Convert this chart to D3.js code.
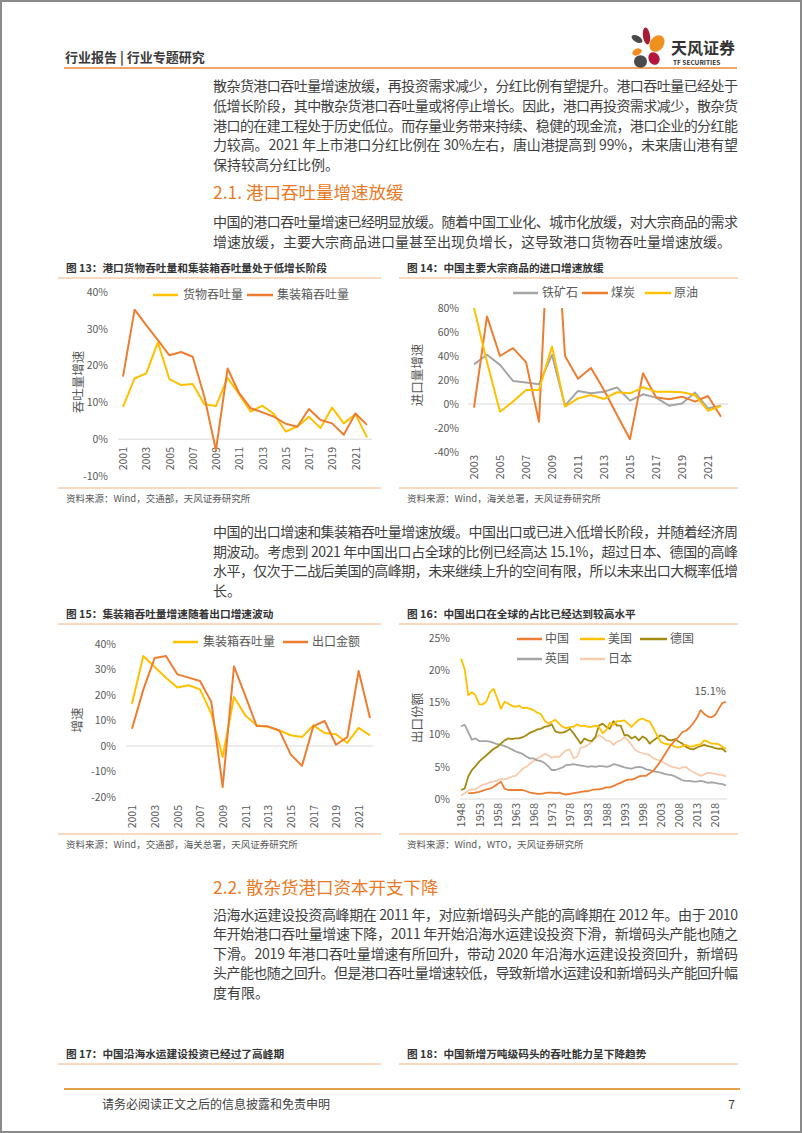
<!DOCTYPE html>
<html><head><meta charset="utf-8">
<script src="https://cdn.jsdelivr.net/npm/d3@7"></script>
<style>html,body{margin:0;padding:0;background:#fff;}svg{display:block;}</style>
</head><body>
<svg id="page" width="802" height="1133"></svg>
<script>
// ---------------- DATA ----------------
const years13 = d3.range(2001, 2023);
const cargo13 = [8.8,16.5,17.9,26.3,16.3,14.7,15.0,9.5,9.0,16.7,12.2,7.5,9.1,6.8,2.1,3.4,6.1,3.0,8.6,4.3,6.8,0.5];
const container13 = [17.0,35.2,31.0,26.9,22.8,23.7,22.4,11.6,-3.0,19.2,12.5,8.4,7.3,6.1,4.2,3.4,8.2,5.2,4.3,1.2,7.0,3.9];
const yTicks13 = [-10,0,10,20,30,40];
const xTicks13 = [2001,2003,2005,2007,2009,2011,2013,2015,2017,2019,2021];

const years14 = d3.range(2003, 2023);
const iron14 = [33,41,32.6,19.2,17.9,16.5,41,-1.4,10.9,8.9,10.3,13.7,2.8,8.1,5.3,-1.4,0.5,9.5,-3.6,-1.4];
const coal14 = [-3,73,40,46.6,34.9,-14.8,212,40,21,30,11.7,-9.2,-29.3,25.7,5.6,3.9,6.1,2,6.7,-10.6];
const crude14 = [80,35,-6.4,2,11.7,11.7,48,-2.2,4.7,7.5,4.2,9.8,8.9,13.9,10.3,10.3,9.8,7.5,-5.6,-1.7];
const yTicks14 = [-40,-20,0,20,40,60,80];
const xTicks14 = [2003,2005,2007,2009,2011,2013,2015,2017,2019,2021];

const years15 = d3.range(2001, 2023);
const container15 = [16.6,35.3,31.0,26.8,22.9,23.8,22.2,12.7,-4.3,19.2,12.0,8.1,7.5,6.1,4.2,3.5,8.1,5.1,4.6,1.2,7.1,4.2];
const export15 = [6.8,22.1,34.5,35.3,28.1,26.8,25.5,17.3,-16.1,31.2,19.7,7.8,7.7,6.1,-3.3,-7.8,7.8,9.8,0.5,3.5,29.4,11.0];
const yTicks15 = [-20,-10,0,10,20,30,40];
const xTicks15 = [2001,2003,2005,2007,2009,2011,2013,2015,2017,2019,2021];

const years16 = d3.range(1948, 2022);
const china16 = [null,null,0.9,0.9,1.0,1.1,1.3,1.5,1.6,1.9,
  2.3,2.7,1.6,1.4,1.4,1.4,1.4,1.4,1.2,1.0,
  0.9,0.8,0.8,0.9,1.0,1.0,0.9,1.0,0.8,0.7,
  0.8,0.9,1.0,1.1,1.2,1.2,1.4,1.5,1.5,1.6,
  1.8,1.8,2.0,2.3,2.5,2.8,3.0,3.0,3.2,3.5,
  3.6,3.6,4.0,4.4,5.1,5.9,6.8,7.7,8.5,9.1,
  9.7,10.4,10.6,11.1,11.8,12.6,13.8,13.2,12.8,12.7,
  13.0,14.0,14.9,15.1];
const us16 = [21.8,20.2,16.1,16.6,16.1,14.7,14.7,15.1,16.6,17.1,
  15.6,14.0,15.1,14.8,14.5,14.3,14.5,14.1,14.2,14.0,
  13.8,13.4,13.2,12.2,11.7,12.0,12.3,11.7,11.2,11.0,
  11.2,11.2,11.6,11.3,11.4,11.2,11.2,11.4,11.2,10.2,
  10.7,11.8,11.5,12.1,12.1,12.2,11.7,11.2,11.8,12.3,
  12.5,12.2,12.0,11.0,9.9,8.9,8.6,8.5,8.4,8.1,
  8.0,8.2,8.4,8.1,8.2,8.4,8.5,9.1,8.9,8.6,
  8.6,8.5,8.1,7.8];
const germany16 = [1.4,1.6,3.5,4.5,5.1,5.8,6.3,6.8,7.3,7.8,
  8.1,8.6,9.1,9.4,9.3,9.4,9.4,9.6,9.9,10.3,
  10.5,10.8,10.9,11.2,11.3,11.6,10.5,10.3,10.3,10.5,
  10.9,10.2,9.4,8.6,9.4,9.1,9.0,9.6,11.4,11.7,
  11.2,10.9,12.1,11.4,11.4,9.9,9.9,9.4,9.7,9.1,
  9.7,9.4,8.6,9.1,9.5,9.9,9.7,9.2,9.1,9.3,
  8.9,8.6,8.1,7.8,7.7,8.0,8.2,8.4,8.2,8.1,
  7.9,7.8,7.8,7.3];
const uk16 = [11.3,11.5,10.4,9.2,9.4,9.0,9.0,9.0,8.9,8.7,
  8.5,8.4,8.2,8.0,7.7,7.4,7.2,7.0,6.6,6.3,
  6.3,6.0,5.9,5.6,5.1,4.5,4.5,4.7,4.9,5.3,
  5.3,5.4,5.3,5.2,5.1,5.0,5.1,5.0,5.1,5.1,
  5.0,5.1,5.4,5.3,5.1,4.9,4.8,4.7,4.9,5.0,
  4.9,4.6,4.5,4.3,4.2,4.1,3.9,3.8,3.7,3.5,
  3.2,2.9,2.8,2.8,2.7,2.7,2.8,2.7,2.5,2.6,
  2.5,2.4,2.3,2.1];
const japan16 = [0.5,0.9,1.3,1.5,1.5,1.9,2.2,2.4,2.6,2.7,
  2.9,3.1,3.1,3.2,3.5,3.6,4.1,4.7,5.0,5.5,
  5.9,6.3,6.6,7.0,6.8,6.4,6.6,6.5,7.1,7.6,
  7.7,6.3,6.6,8.0,8.1,8.4,8.9,9.5,9.9,9.6,
  9.1,9.0,8.4,8.9,9.1,9.6,9.1,8.4,7.6,7.3,
  7.1,7.0,6.8,6.3,6.1,5.9,5.6,5.3,5.0,4.9,
  4.7,4.9,5.0,4.5,4.2,3.9,3.6,3.8,4.1,4.0,
  3.9,3.8,3.7,3.5];
const yTicks16 = [0,5,10,15,20,25];
const xTicks16 = [1948,1953,1958,1963,1968,1973,1978,1983,1988,1993,1998,2003,2008,2013,2018];

// ---------------- TEXT ----------------
const para1 = [
  "散杂货港口吞吐量增速放缓，再投资需求减少，分红比例有望提升。港口吞吐量已经处于",
  "低增长阶段，其中散杂货港口吞吐量或将停止增长。因此，港口再投资需求减少，散杂货",
  "港口的在建工程处于历史低位。而存量业务带来持续、稳健的现金流，港口企业的分红能",
  "力较高。2021 年上市港口分红比例在 30%左右，唐山港提高到 99%，未来唐山港有望",
  "保持较高分红比例。"];
const para2 = [
  "中国的港口吞吐量增速已经明显放缓。随着中国工业化、城市化放缓，对大宗商品的需求",
  "增速放缓，主要大宗商品进口量甚至出现负增长，这导致港口货物吞吐量增速放缓。"];
const para3 = [
  "中国的出口增速和集装箱吞吐量增速放缓。中国出口或已进入低增长阶段，并随着经济周",
  "期波动。考虑到 2021 年中国出口占全球的比例已经高达 15.1%，超过日本、德国的高峰",
  "水平，仅次于二战后美国的高峰期，未来继续上升的空间有限，所以未来出口大概率低增",
  "长。"];
const para4 = [
  "沿海水运建设投资高峰期在 2011 年，对应新增码头产能的高峰期在 2012 年。由于 2010",
  "年开始港口吞吐量增速下降，2011 年开始沿海水运建设投资下滑，新增码头产能也随之",
  "下滑。2019 年港口吞吐量增速有所回升，带动 2020 年沿海水运建设投资回升，新增码",
  "头产能也随之回升。但是港口吞吐量增速较低，导致新增水运建设和新增码头产能回升幅",
  "度有限。"];

// ---------------- DRAW ----------------
const FF = '"Noto Sans CJK SC","Noto Sans",sans-serif';
const svg = d3.select('#page');
svg.append('rect').attr('width',802).attr('height',1133).attr('fill','#fff');
svg.append('rect').attr('x',1).attr('y',1).attr('width',800).attr('height',1131)
  .attr('fill','none').attr('stroke','#8a8a8a').attr('stroke-width',2);

function txt(x, y, s, size, o = {}) {
  const t = svg.append('text').attr('x', x).attr('y', y).attr('dy','0.36em')
    .attr('font-family', FF).attr('font-size', size)
    .attr('fill', o.fill || '#3f3f3f').attr('font-weight', o.weight || 'normal')
    .attr('text-anchor', o.anchor || 'start').text(s);
  if (o.len) t.attr('textLength', o.len).attr('lengthAdjust','spacing');
  return t;
}
function hline(x1, x2, y, color, w) {
  svg.append('line').attr('x1',x1).attr('x2',x2).attr('y1',y).attr('y2',y)
    .attr('stroke',color).attr('stroke-width',w);
}
function para(lines, y0, lh) {
  lines.forEach((l, i) => txt(213, y0 + i*lh, l, 14, {len: i < lines.length-1 ? 525 : null}));
}

// header
txt(65, 57, '行业报告 | 行业专题研究', 13, {weight:'bold', fill:'#3a3a3a'});
hline(64, 737, 68, '#E8883A', 1.5);
// logo
const logo = svg.append('g');
[[637,39,6,3.2,30,'#4a4a4a'],[646.5,36,3.6,8.5,-8,'#A51C36'],[657,43.5,6.8,9,35,'#F0901E'],
 [637,52,5,3.3,-25,'#F0901E'],[640.5,61.5,6.5,6.2,0,'#4a4a4a'],[654,58.5,5.5,6.5,-25,'#B5173C']]
 .forEach(p => logo.append('ellipse').attr('cx',p[0]).attr('cy',p[1]).attr('rx',p[2]).attr('ry',p[3])
   .attr('transform',`rotate(${p[4]},${p[0]},${p[1]})`).attr('fill',p[5]));
txt(671, 48, '天风证券', 16, {weight:'bold', fill:'#333'});
txt(673, 62.5, 'TF SECURITIES', 6.5, {weight:'bold', fill:'#333'});

// paragraphs
para(para1, 86, 19.8);
txt(213, 193, '2.1. 港口吞吐量增速放缓', 17.5, {fill:'#E97A26'});
para(para2, 222, 20);
para(para3, 532, 19.6);
txt(213, 888, '2.2. 散杂货港口资本开支下降', 17.5, {fill:'#E97A26'});
para(para4, 915, 19.4);

// chart frames
function frame(x0, x1, ty, by, title, source) {
  txt(x0 + 8, ty, title, 10.7, {weight:'bold', fill:'#333'});
  hline(x0, x1, ty + 10, '#F4B27C', 1);
  if (by) {
    hline(x0, x1, by, '#F4B27C', 1);
    txt(x0 + 8, by + 11, source, 9.5, {fill:'#595959'});
  }
}
frame(58, 381, 268, 488, '图 13：港口货物吞吐量和集装箱吞吐量处于低增长阶段', '资料来源：Wind，交通部，天风证券研究所');
frame(399, 738, 268, 488, '图 14：中国主要大宗商品的进口增速放缓', '资料来源：Wind，海关总署，天风证券研究所');
frame(58, 381, 614, 834, '图 15：集装箱吞吐量增速随着出口增速波动', '资料来源：Wind，交通部，海关总署，天风证券研究所');
frame(399, 738, 614, 834, '图 16：中国出口在全球的占比已经达到较高水平', '资料来源：Wind，WTO，天风证券研究所');
frame(58, 381, 1054, null, '图 17：中国沿海水运建设投资已经过了高峰期');
frame(399, 738, 1054, null, '图 18：中国新增万吨级码头的吞吐能力呈下降趋势');

// footer
hline(64, 740, 1089, '#E3A04E', 2);
txt(102, 1105, '请务必阅读正文之后的信息披露和免责申明', 12, {fill:'#404040'});
txt(735, 1105, '7', 12, {fill:'#404040', anchor:'end'});

let clipId = 0;
function lineChart(o) {
  const g = svg.append('g');
  const x = d3.scalePoint().domain(o.cats).range(o.xRange);
  const y = d3.scaleLinear().domain(o.yDomain).range(o.yRange);
  g.append('line').attr('x1',o.zx[0]).attr('x2',o.zx[1]).attr('y1',y(0)).attr('y2',y(0))
    .attr('stroke','#D9D9D9').attr('stroke-width',1);
  const ya = g.append('g').attr('transform',`translate(${o.yLabelX},0)`)
    .call(d3.axisLeft(y).tickValues(o.yTicks).tickFormat(d => d + '%').tickSize(0).tickPadding(0));
  ya.select('.domain').remove();
  ya.attr('font-family',FF).attr('font-size',o.yfs);
  ya.selectAll('text').attr('fill','#595959');
  const xa = g.append('g').attr('transform',`translate(0,${o.xLabelY})`)
    .call(d3.axisBottom(x).tickValues(o.xTicks).tickSize(0));
  xa.select('.domain').remove();
  xa.attr('font-family',FF).attr('font-size',o.xfs);
  xa.selectAll('text').attr('fill','#595959').attr('transform','rotate(-90)')
    .attr('text-anchor','end').attr('x',0).attr('y',0).attr('dy','0.35em');
  const cid = 'clip' + (clipId++);
  g.append('clipPath').attr('id',cid).append('rect')
    .attr('x', o.xRange[0]-10).attr('width', o.xRange[1]-o.xRange[0]+20)
    .attr('y', o.yRange[1]).attr('height', o.yRange[0]-o.yRange[1]+40);
  const line = d3.line().defined(d => d != null).x((d,i) => x(o.cats[i])).y(d => y(d));
  o.series.forEach(s => {
    g.append('path').datum(s.values).attr('d', line).attr('fill','none')
      .attr('stroke', s.color).attr('stroke-width', o.sw || 2)
      .attr('stroke-linejoin','round').attr('clip-path', `url(#${cid})`);
  });
  o.series.forEach(s => {
    const L = s.leg;
    g.append('line').attr('x1',L[0]).attr('x2',L[1]).attr('y1',L[3]).attr('y2',L[3])
      .attr('stroke',s.color).attr('stroke-width',2.5);
    g.append('text').attr('x',L[2]).attr('y',L[3]).attr('dy','0.36em').attr('font-family',FF)
      .attr('font-size',o.lfs).attr('fill','#595959').text(s.name);
  });
  g.append('text').attr('transform',`translate(${o.yt[0]},${o.yt[1]}) rotate(-90)`)
    .attr('text-anchor','middle').attr('dy','0.36em').attr('font-family',FF)
    .attr('font-size',o.ytfs).attr('fill','#595959').text(o.yTitle);
  return {x, y, g};
}

const ORANGE = '#ED7D31', YELLOW = '#FFC000', GRAY = '#A5A5A5';

lineChart({cats: years13, xRange:[123,367], yDomain:[-10,40], yRange:[476,292], zx:[118,372],
  yTicks: yTicks13, xTicks: xTicks13, yLabelX:108, xLabelY:447, yfs:10.5, xfs:10.5, lfs:12, ytfs:12.5,
  yTitle:'吞吐量增速', yt:[78,382],
  series:[
    {name:'货物吞吐量', values: cargo13, color: YELLOW, leg:[153,178,183,295]},
    {name:'集装箱吞吐量', values: container13, color: ORANGE, leg:[247,273,277,295]}]});

lineChart({cats: years14, xRange:[474,721], yDomain:[-40,80], yRange:[452,308], zx:[468,728],
  yTicks: yTicks14, xTicks: xTicks14, yLabelX:459, xLabelY:455, yfs:10.5, xfs:11, lfs:12, ytfs:12.5,
  yTitle:'进口量增速', yt:[417,375],
  series:[
    {name:'铁矿石', values: iron14, color: GRAY, leg:[513,538,542,293]},
    {name:'煤炭', values: coal14, color: ORANGE, leg:[582,608,611,293]},
    {name:'原油', values: crude14, color: YELLOW, leg:[645,671,674,293]}]});

lineChart({cats: years15, xRange:[132,370], yDomain:[-20,40], yRange:[797,644], zx:[126,373],
  yTicks: yTicks15, xTicks: xTicks15, yLabelX:116, xLabelY:805, yfs:10.5, xfs:10.5, lfs:12, ytfs:12.5,
  yTitle:'增速', yt:[77,720],
  series:[
    {name:'集装箱吞吐量', values: container15, color: YELLOW, leg:[173,198,203,642]},
    {name:'出口金额', values: export15, color: ORANGE, leg:[283,308,312,642]}]});

const c16 = lineChart({cats: years16, xRange:[461,726], yDomain:[0,25], yRange:[799,638], zx:[460,727],
  yTicks: yTicks16, xTicks: xTicks16, yLabelX:450, xLabelY:803, yfs:10.5, xfs:11, lfs:12, ytfs:12.5,
  yTitle:'出口份额', yt:[417,718], sw:1.8,
  series:[
    {name:'日本', values: japan16, color:'#F8CBAD', leg:[580,605,608,659]},
    {name:'英国', values: uk16, color:'#A5A5A5', leg:[517,542,545,659]},
    {name:'德国', values: germany16, color:'#A68A10', leg:[640,667,670,639]},
    {name:'美国', values: us16, color: YELLOW, leg:[580,605,608,639]},
    {name:'中国', values: china16, color: ORANGE, leg:[517,542,545,639]}]});
c16.g.append('text').attr('x', c16.x(2021)).attr('y', c16.y(15.1) - 11).attr('dy','0.36em')
  .attr('text-anchor','end').attr('font-family',FF).attr('font-size',11).attr('fill','#595959')
  .text('15.1%');
</script>
</body></html>
